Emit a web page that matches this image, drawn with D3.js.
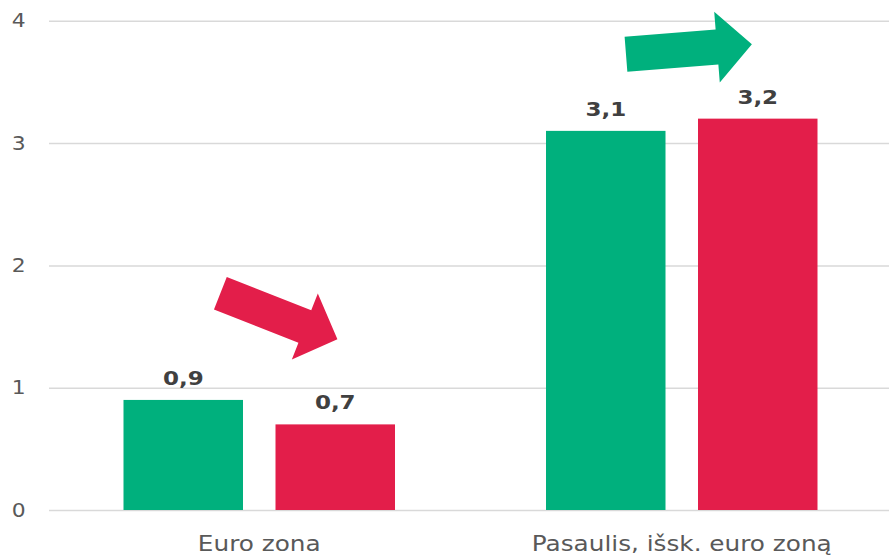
<!DOCTYPE html>
<html>
<head>
<meta charset="utf-8">
<script src="https://cdn.jsdelivr.net/npm/d3@7"></script>
<style>
  html, body { margin: 0; padding: 0; background: #fff; }
  svg { display: block; }
</style>
</head>
<body>
<svg id="chart" width="889" height="555"></svg>
<script>
// ---- data ----
const categories = ["Euro zona", "Pasaulis, išsk. euro zoną"];
const seriesNames = ["prev", "curr"];
const prevValues = [0.9, 3.1];
const currValues = [0.7, 3.2];
const valueLabels = [["0,9", "0,7"], ["3,1", "3,2"]];
const yTicks = [0, 1, 2, 3, 4];
const seriesColors = ["#00b07d", "#e31e4a"];
// trend arrows: position within group band (fraction) and value
const arrowGroups = ["Euro zona", "Pasaulis, išsk. euro zoną"];
const arrowFrom = [[0.408, 1.772], [0.368, 3.727]];
const arrowTo = [[0.685, 1.396], [0.666, 3.808]];
const arrowColors = ["#e31e4a", "#00b07d"];

// ---- layout ----
const svg = d3.select("#chart");
const mLeft = 49, mRight = 889, mTop = 20.8, mBottom = 510;
const sx = 1.15;

const x0 = d3.scaleBand().domain(categories).range([48, 893]).padding(0);
const innerW = 271.5;
const x1 = d3.scaleBand().domain(seriesNames)
  .range([(x0.bandwidth() - innerW) / 2, (x0.bandwidth() + innerW) / 2])
  .paddingInner(0.2138).paddingOuter(0);
const y = d3.scaleLinear().domain([0, 4]).range([mBottom, mTop]);

// grid + y axis
const yAxis = d3.axisLeft(y).tickValues(yTicks).tickFormat(d3.format("d"))
  .tickSize(-(mRight - mLeft)).tickPadding(20.4);
const gy = svg.append("g").attr("transform", `translate(${mLeft},0)`).call(yAxis);
gy.select(".domain").remove();
gy.selectAll(".tick line").attr("stroke", "#d9d9d9").attr("stroke-width", 1.5);
gy.selectAll(".tick text")
  .attr("fill", "#595959")
  .style("font-family", "'DejaVu Sans', Verdana, sans-serif")
  .style("font-size", "19px")
  .attr("transform", `scale(${sx},1)`);

// bars
const data = categories.map((c, i) => ({
  cat: c,
  vals: [
    { s: seriesNames[0], v: prevValues[i], lab: valueLabels[i][0], col: seriesColors[0] },
    { s: seriesNames[1], v: currValues[i], lab: valueLabels[i][1], col: seriesColors[1] }
  ]
}));

const groups = svg.append("g").selectAll("g").data(data).join("g")
  .attr("transform", d => `translate(${x0(d.cat)},0)`);

groups.selectAll("rect").data(d => d.vals).join("rect")
  .attr("x", d => x1(d.s))
  .attr("y", d => y(d.v))
  .attr("width", x1.bandwidth())
  .attr("height", d => y(0) - y(d.v))
  .attr("fill", d => d.col);

groups.selectAll("text.val").data(d => d.vals).join("text")
  .attr("class", "val")
  .attr("transform", d => `translate(${x1(d.s) + x1.bandwidth() / 2},${y(d.v) - 15}) scale(${sx},1)`)
  .attr("text-anchor", "middle")
  .attr("fill", "#404040")
  .style("font-family", "'DejaVu Sans', Verdana, sans-serif")
  .style("font-weight", "bold")
  .style("font-size", "20px")
  .text(d => d.lab);

// category labels
svg.append("g").selectAll("text").data(categories).join("text")
  .attr("transform", d => `translate(${x0(d) + x0.bandwidth() / 2},551) scale(${sx},1)`)
  .attr("text-anchor", "middle")
  .attr("fill", "#595959")
  .style("font-family", "'DejaVu Sans', Verdana, sans-serif")
  .style("font-size", "21.5px")
  .text(d => d);

// arrows
const shaftW = 35, headW = 71, headL = 35;
arrowGroups.forEach((g, i) => {
  const xa = x0(g) + arrowFrom[i][0] * x0.bandwidth();
  const ya = y(arrowFrom[i][1]);
  const xb = x0(g) + arrowTo[i][0] * x0.bandwidth();
  const yb = y(arrowTo[i][1]);
  const len = Math.hypot(xb - xa, yb - ya);
  const ang = Math.atan2(yb - ya, xb - xa) * 180 / Math.PI;
  const L = len - headL;
  const pts = [[0, -shaftW / 2], [L, -shaftW / 2], [L, -headW / 2], [len, 0],
               [L, headW / 2], [L, shaftW / 2], [0, shaftW / 2]];
  svg.append("polygon")
    .attr("points", pts.map(p => p.join(",")).join(" "))
    .attr("transform", `translate(${xa},${ya}) rotate(${ang})`)
    .attr("fill", arrowColors[i]);
});
</script>
</body>
</html>
